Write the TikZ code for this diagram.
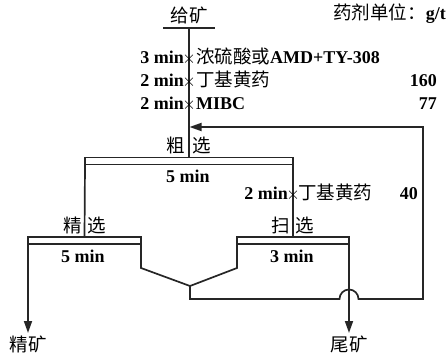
\documentclass[tikz,border=0pt]{standalone}
\usepackage{fontspec}
\setmainfont{Liberation Serif}
\newfontfamily\cjk{Noto Sans CJK SC}
\usetikzlibrary{arrows.meta}
\begin{document}
\begin{tikzpicture}[x=1pt,y=-1pt,
 ln/.style={line width=1.7pt, draw=black!85},
 bar/.style={draw=black!85, line width=1.5pt, fill=white, minimum height=7pt, inner sep=0pt, outer sep=0pt},
 txt/.style={font=\fontsize{18}{20}\selectfont\bfseries, inner sep=0pt},
 zh/.style={font=\fontsize{18.5}{20}\selectfont\cjk, inner sep=0pt},
 mix/.style={font=\fontsize{18}{20}\selectfont\bfseries, inner sep=0pt},
 cross/.style={font=\fontsize{16}{16}\selectfont, inner sep=0pt},
 arr/.style={-{Triangle[length=12pt,width=8pt]}}]
\useasboundingbox (0,0) rectangle (448,356);
% bars
\node[bar, minimum width=208pt] (rough) at (189,161) {};
\node[bar, minimum width=113pt] (clean) at (84.5,240.5) {};
\node[bar, minimum width=112pt] (scav) at (293,240.5) {};
% feed
\node[zh] (feed) at (189,15) {给矿};
\coordinate (ulL) at (163,28);
\coordinate (ulR) at (215,28);
\coordinate (ulM) at (189,28);
\draw[ln] (ulL) -- (ulR);
\draw[ln] (ulM) -- (rough.north);
\node[mix, anchor=mid east] (unit) at (446,17) {{\cjk\mdseries\fontsize{18.5}{20}\selectfont 药剂单位：}g/t};
% reagents
\node[txt, anchor=mid east] (t1) at (184,61) {3 min};
\node[txt, anchor=mid east] (t2) at (184,84) {2 min};
\node[txt, anchor=mid east] (t3) at (184,107) {2 min};
\node[cross] (x1) at (189,59.5) {$\times$};
\node[cross] (x2) at (189,82.5) {$\times$};
\node[cross] (x3) at (189,105.5) {$\times$};
\node[mix, anchor=mid west] (r1) at (196,61) {{\cjk\mdseries\fontsize{18.5}{20}\selectfont 浓硫酸或}AMD+TY-308};
\node[zh, anchor=mid west] (r2) at (196,84) {丁基黄药};
\node[txt, anchor=mid west] (r3) at (196,107) {MIBC};
\node[txt, anchor=mid east] (d2) at (437,84) {160};
\node[txt, anchor=mid east] (d3) at (437,107) {77};
% rougher
\node[zh] (roughlbl) at (189,145) {粗\hspace{8pt}选};
\node[txt] (rtime) at (188,176) {5 min};
\node[zh] (cleanlbl) at (85,225) {精\hspace{6pt}选};
\node[zh] (scavlbl) at (293,225) {扫\hspace{6pt}选};
\node[txt] (ctime) at (83,256) {5 min};
\node[txt] (stime) at (292,256) {3 min};
\draw[ln] (rough.south west) -- (clean.north);
\draw[ln] (rough.south east) -- (scav.north);
\node[txt, anchor=mid east] (t4) at (288,197) {2 min};
\node[cross] (x4) at (293,195.5) {$\times$};
\node[zh, anchor=mid west] (r4) at (298,197) {丁基黄药};
\node[txt, anchor=mid east] (d4) at (418,197) {40};
% middlings
\coordinate (cm1) at (141,268);
\coordinate (sm1) at (237,268);
\coordinate (v) at (190,286);
\coordinate (j) at (190,299);
\coordinate (hopL) at (339.5,299);
\coordinate (rc1) at (423,299);
\coordinate (rc2) at (423,127);
\coordinate (rc3) at (189.5,127);
\draw[ln] (clean.south east) -- (cm1) -- (v);
\draw[ln] (scav.south west) -- (sm1) -- (v);
\draw[ln, arr] (v) -- (j) -- (hopL) arc[start angle=180, end angle=0, radius=9.5pt] -- (rc1) -- (rc2) -- (rc3);
% products
\coordinate (conc) at (28,333);
\coordinate (tail) at (349,333);
\draw[ln, arr] (clean.south west) -- (conc);
\draw[ln, arr] (scav.south east) -- (tail);
\node[zh] (conclbl) at (28,344) {精矿};
\node[zh] (taillbl) at (349,344) {尾矿};
\end{tikzpicture}
\end{document}
